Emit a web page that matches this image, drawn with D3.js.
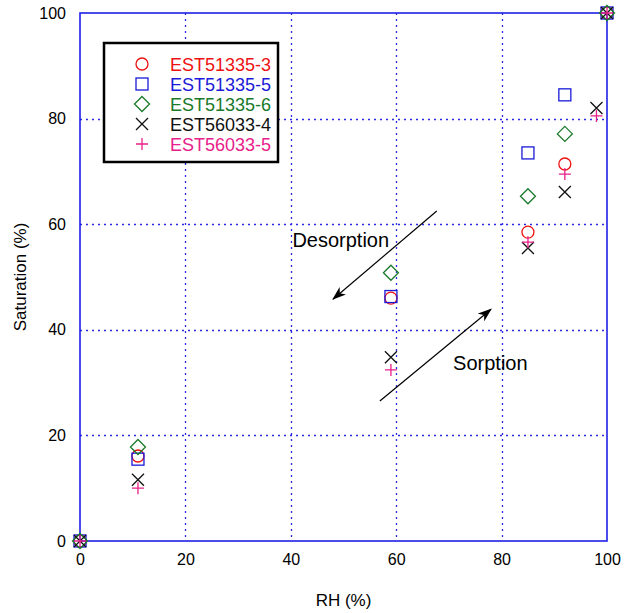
<!DOCTYPE html>
<html>
<head>
<meta charset="utf-8">
<script src="https://cdn.jsdelivr.net/npm/d3@7"></script>
<style>
  body { margin: 0; background: #fff; }
  text { font-family: "Liberation Sans", Arial, sans-serif; }
</style>
</head>
<body>
<div class="chart"></div>
<script>
(function() {

	// DATA
	var seriesNames = ['EST51335-3', 'EST51335-5', 'EST51335-6', 'EST56033-4', 'EST56033-5'];
	var seriesColors = ['#ee1111', '#1a1ad8', '#1a7a2a', '#111111', '#e8208a'];
	var seriesSymbols = ['circle', 'square', 'diamond', 'cross', 'plus'];

	var rh_51335_3 = [0, 11, 59, 85, 92, 100];
	var sat_51335_3 = [0, 16.1, 46.0, 58.5, 71.4, 100];
	var rh_51335_5 = [0, 11, 59, 85, 92, 100];
	var sat_51335_5 = [0, 15.5, 46.3, 73.5, 84.5, 100];
	var rh_51335_6 = [0, 11, 59, 85, 92, 100];
	var sat_51335_6 = [0, 17.8, 50.8, 65.3, 77.1, 100];
	var rh_56033_4 = [0, 11, 59, 85, 92, 98, 100];
	var sat_56033_4 = [0, 11.6, 34.8, 55.5, 66.1, 82.0, 100];
	var rh_56033_5 = [0, 11, 59, 85, 92, 98, 100];
	var sat_56033_5 = [0, 10.0, 32.4, 56.6, 69.5, 80.5, 100];

	var xTicks = [0, 20, 40, 60, 80, 100];
	var yTicks = [0, 20, 40, 60, 80, 100];

	// annotations (in data units)
	var arrowDesorption = [[67.7, 62.5], [48.0, 45.8]];
	var arrowSorption = [[56.9, 26.5], [78.0, 43.9]];
	var labelDesorption = [40.3, 55.7];
	var labelSorption = [70.8, 32.4];

	var rhList = [rh_51335_3, rh_51335_5, rh_51335_6, rh_56033_4, rh_56033_5];
	var satList = [sat_51335_3, sat_51335_5, sat_51335_6, sat_56033_4, sat_56033_5];

	var series = seriesNames.map(function(name, i) {
		return {
			name: name,
			color: seriesColors[i],
			symbol: seriesSymbols[i],
			points: rhList[i].map(function(x, j) { return { x: x, y: satList[i][j] }; })
		};
	});

	// SETUP
	var svgWidth = 624, svgHeight = 613;
	var margin = { top: 13, right: 17, bottom: 72, left: 80 };
	var width = svgWidth - margin.left - margin.right;
	var height = svgHeight - margin.top - margin.bottom;

	var svg = d3.select('.chart').append('svg')
		.attr('width', svgWidth)
		.attr('height', svgHeight);

	var defs = svg.append('defs');
	defs.append('marker')
		.attr('id', 'arrowhead')
		.attr('viewBox', '0 0 14 10')
		.attr('refX', 13)
		.attr('refY', 5)
		.attr('markerWidth', 14)
		.attr('markerHeight', 10)
		.attr('markerUnits', 'userSpaceOnUse')
		.attr('orient', 'auto')
		.append('path')
		.attr('d', 'M0,0 L14,5 L0,10 L4,5 Z')
		.attr('fill', '#000')
		.attr('stroke', 'none');

	var g = svg.append('g')
		.attr('transform', 'translate(' + margin.left + ',' + margin.top + ')');

	var x = d3.scaleLinear().domain([0, 100]).range([0, width]);
	var y = d3.scaleLinear().domain([0, 100]).range([height, 0]);

	// grid
	var gridColor = '#2a2ae0';
	g.append('g').selectAll('line.vgrid')
		.data(xTicks.slice(1, -1))
		.enter().append('line')
		.attr('x1', function(d) { return Math.round(x(d)) + 0.5; })
		.attr('x2', function(d) { return Math.round(x(d)) + 0.5; })
		.attr('y1', 0).attr('y2', height)
		.attr('stroke', gridColor)
		.attr('stroke-width', 1.3)
		.attr('stroke-dasharray', '2,4');
	g.append('g').selectAll('line.hgrid')
		.data(yTicks.slice(1, -1))
		.enter().append('line')
		.attr('y1', function(d) { return Math.round(y(d)) + 0.5; })
		.attr('y2', function(d) { return Math.round(y(d)) + 0.5; })
		.attr('x1', 0).attr('x2', width)
		.attr('stroke', gridColor)
		.attr('stroke-width', 1.3)
		.attr('stroke-dasharray', '2,4');

	// frame
	g.append('rect')
		.attr('x', 0).attr('y', 0)
		.attr('width', width).attr('height', height)
		.attr('fill', 'none')
		.attr('stroke', '#2020e8')
		.attr('stroke-width', 1.6);

	// axes (labels only)
	var xAxis = g.append('g')
		.attr('transform', 'translate(0,' + height + ')')
		.call(d3.axisBottom(x).tickValues(xTicks).tickSize(0).tickPadding(13));
	var yAxis = g.append('g')
		.call(d3.axisLeft(y).tickValues(yTicks).tickSize(0).tickPadding(14));
	[xAxis, yAxis].forEach(function(ax) {
		ax.select('.domain').remove();
		ax.selectAll('text')
			.style('font-family', '"Liberation Sans", Arial, sans-serif')
			.style('font-size', '16px')
			.attr('fill', '#000');
	});

	// axis titles
	svg.append('text')
		.attr('x', margin.left + width / 2)
		.attr('y', 606)
		.attr('text-anchor', 'middle')
		.style('font-size', '17px')
		.text('RH (%)');
	svg.append('text')
		.attr('transform', 'translate(26,' + (margin.top + height / 2) + ') rotate(-90)')
		.attr('text-anchor', 'middle')
		.style('font-size', '17px')
		.text('Saturation (%)');

	// symbols
	function drawSymbol(sel, type, size, color) {
		var h = size / 2;
		if (type === 'circle') {
			sel.append('circle').attr('r', h).attr('fill', 'none').attr('stroke', color).attr('stroke-width', 1.3);
		} else if (type === 'square') {
			sel.append('rect').attr('x', -h).attr('y', -h).attr('width', size).attr('height', size)
				.attr('fill', 'none').attr('stroke', color).attr('stroke-width', 1.3);
		} else if (type === 'diamond') {
			var d = h * 1.25;
			sel.append('path').attr('d', 'M0,' + (-d) + 'L' + d + ',0L0,' + d + 'L' + (-d) + ',0Z')
				.attr('fill', 'none').attr('stroke', color).attr('stroke-width', 1.3);
		} else if (type === 'cross') {
			sel.append('path').attr('d', 'M' + (-h) + ',' + (-h) + 'L' + h + ',' + h + 'M' + (-h) + ',' + h + 'L' + h + ',' + (-h))
				.attr('fill', 'none').attr('stroke', color).attr('stroke-width', 1.3);
		} else if (type === 'plus') {
			sel.append('path').attr('d', 'M' + (-h) + ',0L' + h + ',0M0,' + (-h) + 'L0,' + h)
				.attr('fill', 'none').attr('stroke', color).attr('stroke-width', 1.3);
		}
	}

	series.forEach(function(s) {
		g.append('g').selectAll('g.pt')
			.data(s.points)
			.enter().append('g')
			.attr('transform', function(d) { return 'translate(' + x(d.x) + ',' + y(d.y) + ')'; })
			.each(function() { drawSymbol(d3.select(this), s.symbol, 12, s.color); });
	});

	// arrows + annotations
	var line = d3.line().x(function(d) { return x(d[0]); }).y(function(d) { return y(d[1]); });
	[arrowDesorption, arrowSorption].forEach(function(a) {
		g.append('path')
			.attr('d', line(a))
			.attr('fill', 'none')
			.attr('stroke', '#000')
			.attr('stroke-width', 1.2)
			.attr('marker-end', 'url(#arrowhead)');
	});
	g.append('text')
		.attr('x', x(labelDesorption[0])).attr('y', y(labelDesorption[1]))
		.style('font-size', '20px')
		.text('Desorption');
	g.append('text')
		.attr('x', x(labelSorption[0])).attr('y', y(labelSorption[1]))
		.style('font-size', '20px')
		.text('Sorption');

	// legend
	var legend = svg.append('g').attr('transform', 'translate(104,43)');
	legend.append('rect')
		.attr('width', 174).attr('height', 119)
		.attr('fill', '#fff')
		.attr('stroke', '#000')
		.attr('stroke-width', 2.5);
	series.forEach(function(s, i) {
		var row = legend.append('g').attr('transform', 'translate(0,' + (21 + i * 20) + ')');
		drawSymbol(row.append('g').attr('transform', 'translate(38,0)'), s.symbol, 12, s.color);
		row.append('text')
			.attr('x', 66).attr('y', 6.5)
			.attr('fill', s.color)
			.style('font-size', '18px')
			.text(s.name);
	});

})();
</script>
</body>
</html>
